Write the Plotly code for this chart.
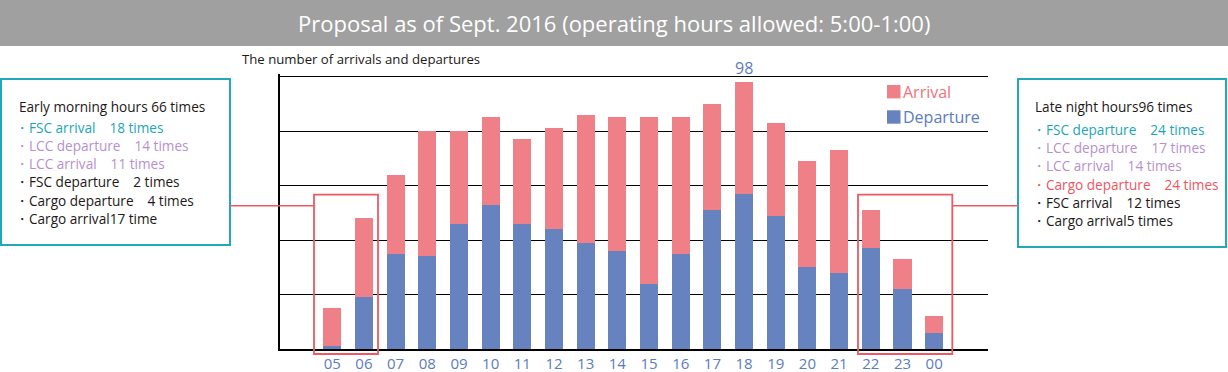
import plotly.graph_objects as go

# ---------------- data ----------------
hours = ["05", "06", "07", "08", "09", "10", "11", "12", "13", "14",
         "15", "16", "17", "18", "19", "20", "21", "22", "23", "00"]
departure = [1, 19, 35, 34, 46, 53, 46, 44, 39, 36,
             24, 35, 51, 57, 49, 30, 28, 37, 22, 6]
total = [15, 48, 64, 80, 80, 85, 77, 81, 86, 85,
         85, 85, 90, 98, 83, 69, 73, 51, 33, 12]
arrival = [t - d for t, d in zip(total, departure)]

title_text = "Proposal as of Sept. 2016 (operating hours allowed: 5:00-1:00)"
y_title = "The number of arrivals and departures"

TEAL = "#1ba6b6"
LAV = "#b690cc"
RED = "#f0555f"
BLK = "#231815"

left_header = "Early morning hours 66 times"
left_items = [("・FSC arrival\u300018 times", TEAL),
              ("・LCC departure\u300014 times", LAV),
              ("・LCC arrival\u300011 times", LAV),
              ("・FSC departure\u30002 times", BLK),
              ("・Cargo departure\u30004 times", BLK),
              ("・Cargo arrival17 time", BLK)]
right_header = "Late night hours96 times"
right_items = [("・FSC departure\u300024 times", TEAL),
               ("・LCC departure\u300017 times", LAV),
               ("・LCC arrival\u300014 times", LAV),
               ("・Cargo departure\u300024 times", RED),
               ("・FSC arrival\u300012 times", BLK),
               ("・Cargo arrival5 times", BLK)]

# ---------------- layout helpers ----------------
W, H = 1228, 372
def px(x):
    return x / W
def py(y):
    return 1 - y / H

ARR_C = "#ef8087"
DEP_C = "#6683c0"
ARR_T = "#f0717c"
DEP_T = "#5a7cc0"
FONT = "Open Sans"
BOX_FS = 13.6

fig = go.Figure()
fig.add_trace(go.Bar(x=hours, y=departure, name="Departure",
                     marker=dict(color=DEP_C, line=dict(width=0))))
fig.add_trace(go.Bar(x=hours, y=arrival, name="Arrival",
                     marker=dict(color=ARR_C, line=dict(width=0))))

shapes = []
annotations = []

# title bar
shapes.append(dict(type="rect", xref="paper", yref="paper",
                   x0=0, x1=1, y0=py(46), y1=py(0),
                   fillcolor="#a0a0a0", line=dict(width=0), layer="below"))
annotations.append(dict(xref="paper", yref="paper", x=px(614), y=py(23),
                        text=title_text, showarrow=False,
                        xanchor="center", yanchor="middle",
                        font=dict(family=FONT, size=22, color="white")))

# y title
annotations.append(dict(xref="paper", yref="paper", x=px(240), y=py(59),
                        text=y_title, showarrow=False,
                        xanchor="left", yanchor="middle",
                        font=dict(family=FONT, size=13.2, color=BLK)))

# max label (category index position)
imax = total.index(max(total))
annotations.append(dict(xref="x", yref="y", x=imax, y=total[imax],
                        text=str(total[imax]), showarrow=False,
                        xanchor="center", yanchor="bottom", yshift=1,
                        font=dict(family=FONT, size=16, color=DEP_T)))

# legend (manual)
for yy, col, tcol, label in [(91.7, ARR_C, ARR_T, "Arrival"),
                             (117, DEP_C, DEP_T, "Departure")]:
    shapes.append(dict(type="rect", xref="paper", yref="paper",
                       x0=px(887), x1=px(900.5), y0=py(yy + 6.7), y1=py(yy - 6.7),
                       fillcolor=col, line=dict(width=0)))
    annotations.append(dict(xref="paper", yref="paper", x=px(901), y=py(yy),
                            text=label, showarrow=False,
                            xanchor="left", yanchor="middle",
                            font=dict(family=FONT, size=16, color=tcol)))

# info boxes
shapes.append(dict(type="rect", xref="paper", yref="paper",
                   x0=px(1), x1=px(230), y0=py(245), y1=py(79),
                   line=dict(color="#22a9b8", width=2), fillcolor="white"))
shapes.append(dict(type="rect", xref="paper", yref="paper",
                   x0=px(1018), x1=px(1226), y0=py(247), y1=py(79),
                   line=dict(color="#22a9b8", width=2), fillcolor="white"))

# highlight rectangles + connectors
RECT_C = "#ec5a64"
shapes.append(dict(type="rect", xref="paper", yref="paper",
                   x0=px(314), x1=px(378), y0=py(354), y1=py(194.7),
                   line=dict(color=RECT_C, width=1.8)))
shapes.append(dict(type="rect", xref="paper", yref="paper",
                   x0=px(858), x1=px(952.3), y0=py(354), y1=py(194.7),
                   line=dict(color=RECT_C, width=1.8)))
shapes.append(dict(type="line", xref="paper", yref="paper",
                   x0=px(230), x1=px(314), y0=py(205.7), y1=py(205.7),
                   line=dict(color=RECT_C, width=1.6)))
shapes.append(dict(type="line", xref="paper", yref="paper",
                   x0=px(952.3), x1=px(1018), y0=py(205.7), y1=py(205.7),
                   line=dict(color=RECT_C, width=1.6)))

# box texts
annotations.append(dict(xref="paper", yref="paper", x=px(17), y=py(106.7),
                        text=left_header, showarrow=False,
                        xanchor="left", yanchor="middle",
                        font=dict(family=FONT, size=BOX_FS, color=BLK)))
for k, (t, c) in enumerate(left_items):
    annotations.append(dict(xref="paper", yref="paper", x=px(13),
                            y=py(127.3 + k * 18.2),
                            text=t, showarrow=False,
                            xanchor="left", yanchor="middle",
                            font=dict(family=FONT, size=BOX_FS, color=c)))
annotations.append(dict(xref="paper", yref="paper", x=px(1033), y=py(106.7),
                        text=right_header, showarrow=False,
                        xanchor="left", yanchor="middle",
                        font=dict(family=FONT, size=BOX_FS, color=BLK)))
for k, (t, c) in enumerate(right_items):
    annotations.append(dict(xref="paper", yref="paper", x=px(1030),
                            y=py(129.3 + k * 18.3),
                            text=t, showarrow=False,
                            xanchor="left", yanchor="middle",
                            font=dict(family=FONT, size=BOX_FS, color=c)))

fig.update_layout(
    width=W, height=H,
    margin=dict(l=0, r=0, t=0, b=0),
    paper_bgcolor="white", plot_bgcolor="white",
    barmode="stack", bargap=0.43,
    showlegend=False,
    shapes=shapes, annotations=annotations,
    font=dict(family=FONT),
    xaxis=dict(domain=[px(280), px(988)], type="category",
               range=[-1.65, 20.7], showgrid=False,
               showline=True, linecolor="black", linewidth=1.5,
               ticks="", tickfont=dict(family=FONT, size=15, color=DEP_T)),
    yaxis=dict(domain=[py(349), py(73.9)], range=[0, 101],
               dtick=20, tick0=0, showgrid=True, gridcolor="black", gridwidth=1.2,
               showticklabels=False, zeroline=False,
               showline=True, linecolor="black", linewidth=1.5, ticks=""),
)

fig.write_html(
    "out.html",
    config={"displayModeBar": False},
    post_script="document.body.style.margin='0';document.body.style.padding='0';"
                "document.body.style.overflow='hidden';"
                "document.documentElement.style.overflow='hidden';",
)
